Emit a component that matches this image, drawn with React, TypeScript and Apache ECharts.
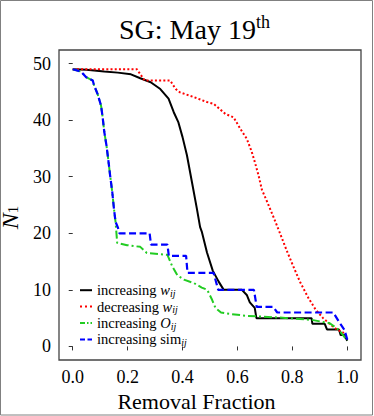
import React, { useEffect, useRef } from 'react';
import * as echarts from 'echarts';

const xTicks = [0, 0.2, 0.4, 0.6, 0.8, 1.0];
const yTicks = [0, 10, 20, 30, 40, 50];
const seriesNames = ['increasing w_ij', 'decreasing w_ij', 'increasing O_ij', 'increasing sim_ij'];

const incW: [number, number][] = [
  [0, 49], [0.05, 48.9], [0.115, 48.6], [0.164, 48.4], [0.212, 48.1], [0.246, 47.4], [0.284, 46.7],
  [0.319, 45.5], [0.349, 43.8], [0.368, 41.4], [0.385, 39.6], [0.4, 37.0], [0.416, 33.8], [0.434, 29.1],
  [0.452, 24.4], [0.464, 21.1], [0.47, 20.3], [0.489, 16.6], [0.51, 13.4], [0.531, 11.5], [0.55, 10],
  [0.616, 10], [0.634, 9.1], [0.645, 7.8], [0.663, 6.8], [0.669, 5], [0.87, 5], [0.873, 4], [0.918, 4],
  [0.926, 3], [0.97, 3], [0.976, 2], [0.99, 2], [1.0, 1],
];

const decW: [number, number][] = [
  [0, 49], [0.234, 49], [0.245, 48.2], [0.262, 47], [0.355, 47], [0.375, 45.5], [0.391, 44.9],
  [0.44, 44.1], [0.489, 43.2], [0.513, 42.9], [0.556, 41.1], [0.586, 40.5], [0.61, 38.5], [0.634, 36.7],
  [0.652, 34.4], [0.665, 32.3], [0.677, 30.2], [0.689, 27.7], [0.707, 25.7], [0.731, 22.9], [0.755, 20],
  [0.779, 17], [0.803, 14.2], [0.828, 11.4], [0.858, 8.6], [0.885, 6.5], [0.912, 5.0], [0.94, 3.8],
  [0.962, 3.0], [0.984, 2.5], [1.0, 1.5],
];

const incO: [number, number][] = [
  [0, 49], [0.03, 48.6], [0.049, 47.6], [0.073, 47], [0.078, 46.1], [0.09, 44.7], [0.103, 42.6],
  [0.109, 40.5], [0.115, 37.9], [0.123, 35.5], [0.129, 33.2], [0.136, 30.3], [0.144, 27.3], [0.15, 24.4],
  [0.156, 22], [0.162, 18.3], [0.198, 17.9], [0.246, 17.6], [0.27, 16.5], [0.345, 16.2], [0.363, 14.1],
  [0.381, 12.6], [0.405, 11.8], [0.441, 11.2], [0.47, 10.4], [0.49, 10], [0.508, 8.2], [0.52, 6.8],
  [0.54, 6], [0.563, 5.8], [0.635, 5.4], [0.754, 5.1], [0.87, 4.7], [0.936, 4.1], [0.97, 2.9], [1.0, 1],
];

const incSim: [number, number][] = [
  [0, 49], [0.03, 48.6], [0.049, 47.6], [0.073, 47], [0.078, 46.1], [0.09, 44.7], [0.103, 42.6],
  [0.109, 40.5], [0.115, 37.9], [0.123, 35.5], [0.129, 33.2], [0.136, 30.3], [0.144, 27.3], [0.15, 24.4],
  [0.156, 22], [0.164, 21.1], [0.17, 20], [0.28, 20], [0.285, 18], [0.345, 18], [0.35, 16], [0.413, 16],
  [0.418, 13], [0.513, 13], [0.53, 10], [0.66, 10], [0.67, 7], [0.73, 7], [0.745, 6], [0.949, 6],
  [0.972, 4.2], [0.99, 2.9], [1.0, 1.2],
];

const seriesData = [incW, decW, incO, incSim];
const seriesColors = ['#000000', '#ff0000', '#22cc22', '#0000ff'];
const seriesDash: any[] = ['solid', [2, 2.2], [8, 3, 2, 3], [7, 3.5]];
const seriesWidth = [2, 2, 2, 2.2];
const legendIcons = [
  'path://M0,0h12v2h-12z',
  'path://M0,0h2v2h-2z M5,0h2v2h-2z M10,0h2v2h-2z',
  'path://M0,0h5v2h-5z M7,0h1.5v2h-1.5z M10.5,0h1.5v2h-1.5z',
  'path://M0,0h5v2h-5z M7.5,0h4.5v2h-4.5z',
];

const FONT = 'Liberation Serif';

const legendLabel: Record<string, string> = {
  'increasing w_ij': 'increasing {it|w}{sub|ij}',
  'decreasing w_ij': 'decreasing {it|w}{sub|ij}',
  'increasing O_ij': 'increasing {it|O}{sub|ij}',
  'increasing sim_ij': 'increasing sim{sub|ij}',
};

export default function App() {
  const ref = useRef<HTMLDivElement>(null);
  useEffect(() => {
    document.body.style.margin = '0';
    const chart = echarts.init(ref.current!, null, { renderer: 'svg' });
    chart.setOption({
      animation: false,
      backgroundColor: '#ffffff',
      title: {
        text: 'SG: May 19{sup|th}',
        left: 119,
        top: 13,
        padding: 0,
        textStyle: {
          fontFamily: FONT,
          fontSize: 28,
          fontWeight: 'normal',
          color: '#000',
          lineHeight: 32,
          rich: {
            sup: { fontFamily: FONT, fontSize: 18, color: '#000', verticalAlign: 'top', lineHeight: 20 },
          },
        },
      },
      grid: {
        left: 59,
        top: 50,
        width: 302,
        height: 310,
        show: true,
        borderColor: '#444',
        borderWidth: 1.3,
        backgroundColor: 'transparent',
        containLabel: false,
        outerBoundsMode: 'none',
      },
      legend: {
        orient: 'vertical',
        left: 80,
        top: 282,
        padding: 0,
        itemGap: 0,
        itemWidth: 12,
        itemHeight: 2,
        data: seriesNames.map((name, i) => ({ name, icon: legendIcons[i] })),
        formatter: (n: string) => legendLabel[n] || n,
        textStyle: {
          fontFamily: FONT,
          fontSize: 14.5,
          color: '#000',
          lineHeight: 16.4,
          rich: {
            it: { fontFamily: FONT, fontSize: 14.5, fontStyle: 'italic', color: '#000', lineHeight: 16.4 },
            sub: { fontFamily: FONT, fontSize: 10, fontStyle: 'italic', color: '#000', lineHeight: 12, verticalAlign: 'bottom' },
          },
        },
      },
      xAxis: {
        type: 'value',
        min: -0.05,
        max: 1.05,
        axisLine: { show: false },
        splitLine: { show: false },
        axisTick: { show: true, inside: false, length: 4, customValues: xTicks, lineStyle: { color: '#333', width: 1 } },
        axisLabel: {
          customValues: xTicks,
          fontFamily: FONT,
          fontSize: 18,
          color: '#000',
          margin: 8,
          formatter: (v: number) => v.toFixed(1),
        },
        name: 'Removal Fraction',
        nameLocation: 'middle',
        nameGap: 21,
        nameTextStyle: { fontFamily: FONT, fontSize: 22, color: '#000', padding: [0, 27, 0, 0] },
      },
      yAxis: {
        type: 'value',
        min: -2.4,
        max: 52.4,
        axisLine: { show: false },
        splitLine: { show: false },
        axisTick: { show: true, inside: false, length: 4, customValues: yTicks, lineStyle: { color: '#333', width: 1 } },
        axisLabel: {
          customValues: yTicks,
          fontFamily: FONT,
          fontSize: 18,
          color: '#000',
          margin: 8,
          formatter: (v: number) => String(Math.round(v)),
        },
        name: '{n|N}{s|1}',
        nameLocation: 'middle',
        nameGap: 26,
        nameRotate: 90,
        nameTextStyle: {
          fontFamily: FONT,
          color: '#000',
          padding: [0, 25, 0, 0],
          rich: {
            n: { fontFamily: FONT, fontSize: 24, fontStyle: 'italic', color: '#000', lineHeight: 20 },
            s: { fontFamily: FONT, fontSize: 15, color: '#000', verticalAlign: 'bottom', lineHeight: 14 },
          },
        },
      },
      graphic: [
        {
          type: 'rect',
          silent: true,
          shape: { x: 0.5, y: 0.5, width: 372, height: 414.5 },
          style: { fill: 'none', stroke: '#808080', lineWidth: 1 },
        },
      ],
      series: seriesNames.map((name, i) => ({
        name,
        type: 'line',
        data: seriesData[i],
        symbol: 'none',
        clip: false,
        lineStyle: { color: seriesColors[i], width: seriesWidth[i], type: seriesDash[i] },
        itemStyle: { color: seriesColors[i] },
        z: 2 + i,
      })),
    });
    return () => chart.dispose();
  }, []);
  return <div ref={ref} style={{ width: 374, height: 416 }} />;
}
